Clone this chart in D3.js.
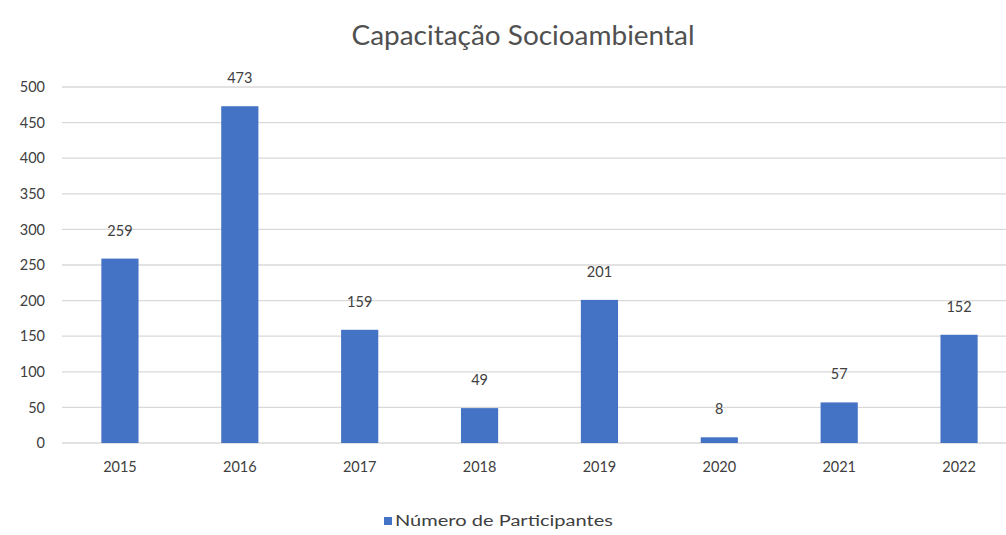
<!DOCTYPE html>
<html>
<head>
<meta charset="utf-8">
<script src="https://cdn.jsdelivr.net/npm/d3@7"></script>
<style>
  html, body { margin: 0; padding: 0; background: #fff; }
  svg { display: block; font-family: Lato, "Open Sans", sans-serif; }
</style>
</head>
<body>
<svg id="chart" width="1006" height="535"></svg>
<script>
// Participantes por ano
const years = ["2015", "2016", "2017", "2018", "2019", "2020", "2021", "2022"];
const participants = [259, 473, 159, 49, 201, 8, 57, 152];
const yTicks = [0, 50, 100, 150, 200, 250, 300, 350, 400, 450, 500];
const chartTitle = "Capacitação Socioambiental";
const seriesName = "Número de Participantes";

const W = 1006, H = 535;
const svg = d3.select("#chart");
const textColor = "#404040";
const barColor = "#4472C4";

const x = d3.scaleBand()
  .domain(years)
  .range([60, 1019])
  .paddingInner(0.69)
  .paddingOuter(0.345);

const y = d3.scaleLinear()
  .domain([0, 500])
  .range([443, 87]);

// Grid lines
svg.append("g")
  .selectAll("line")
  .data(yTicks)
  .join("line")
  .attr("x1", 62)
  .attr("x2", W)
  .attr("y1", d => y(d))
  .attr("y2", d => y(d))
  .attr("stroke", "#d9d9d9")
  .attr("stroke-width", 1.3);

// Y axis labels
const yAxis = d3.axisLeft(y).tickValues(yTicks).tickSize(0).tickPadding(0);
svg.append("g")
  .attr("transform", "translate(45,0)")
  .call(yAxis)
  .call(g => g.select(".domain").remove())
  .call(g => g.selectAll("text")
    .attr("fill", textColor)
    .style("font-size", "14.5px")
    .style("font-family", "Lato, sans-serif"));

// Bars
svg.append("g")
  .selectAll("rect")
  .data(years)
  .join("rect")
  .attr("x", d => x(d))
  .attr("width", x.bandwidth())
  .attr("y", (d, i) => y(participants[i]))
  .attr("height", (d, i) => y(0) - y(participants[i]))
  .attr("fill", barColor);

// Value labels
svg.append("g")
  .selectAll("text")
  .data(years)
  .join("text")
  .attr("x", d => x(d) + x.bandwidth() / 2)
  .attr("y", (d, i) => y(participants[i]) - 23)
  .attr("text-anchor", "middle")
  .attr("fill", textColor)
  .style("font-size", "14.5px")
  .text((d, i) => participants[i]);

// X axis labels
const xAxis = d3.axisBottom(x).tickSize(0).tickPadding(0);
svg.append("g")
  .attr("transform", "translate(0,462)")
  .call(xAxis)
  .call(g => g.select(".domain").remove())
  .call(g => g.selectAll("text")
    .attr("fill", textColor)
    .style("font-size", "14.5px")
    .style("font-family", "Lato, sans-serif"));

// Title
svg.append("text")
  .attr("x", 523)
  .attr("y", 45)
  .attr("text-anchor", "middle")
  .attr("fill", "#505050")
  .style("font-size", "27px")
  .attr("textLength", 343)
  .attr("lengthAdjust", "spacingAndGlyphs")
  .text(chartTitle);

// Legend
const legend = svg.append("g").attr("transform", "translate(384,515)");
legend.append("rect")
  .attr("x", 0).attr("y", 2)
  .attr("width", 8).attr("height", 8)
  .attr("fill", barColor);
legend.append("text")
  .attr("x", 11)
  .attr("y", 11)
  .attr("fill", textColor)
  .style("font-size", "14.5px")
  .attr("textLength", 218)
  .attr("lengthAdjust", "spacingAndGlyphs")
  .text(seriesName);
</script>
</body>
</html>
